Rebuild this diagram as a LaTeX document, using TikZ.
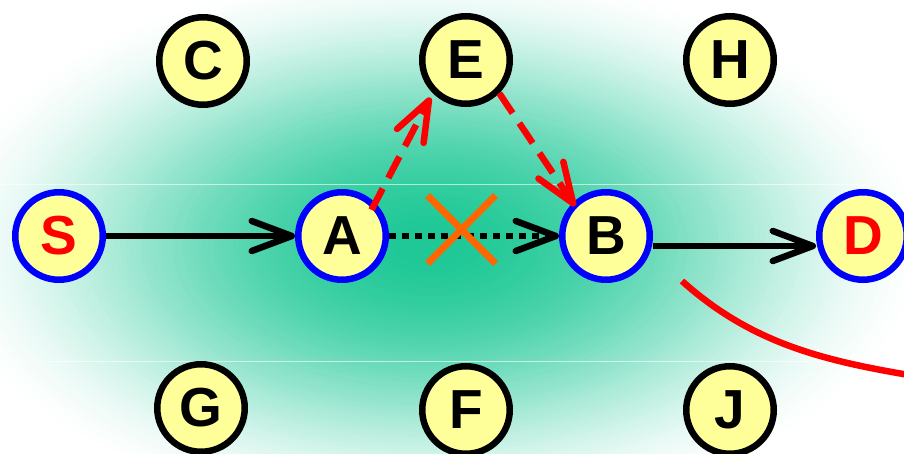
\documentclass[tikz,border=0pt]{standalone}
\usepackage{fontspec}
\setmainfont{Liberation Sans}
\usetikzlibrary{arrows.meta,shapes.misc}
\definecolor{bggreen}{RGB}{30,200,150}
\definecolor{nodefill}{RGB}{255,255,153}
\definecolor{xorange}{RGB}{255,102,0}
\begin{document}
\begin{tikzpicture}[x=1pt,y=-1pt,
  vtx/.style={circle, draw=black, fill=nodefill, line width=6.5pt, minimum size=87.5pt, inner sep=0pt,
    font=\fontsize{55}{55}\selectfont\bfseries},
  pathvtx/.style={vtx, draw=blue},
  arr/.style={line width=6.5pt, -{Straight Barb[length=40pt,width=30pt,round]}},
  dotpat/.style={dash pattern=on 6.5pt off 6.5pt},
  redarr/.style={arr, red, dash pattern=on 24pt off 12pt},
  seam/.style={white, opacity=0.6, line width=1pt}]
\useasboundingbox (0,0) rectangle (904,454);
\begin{scope}
\clip (0,0) rectangle (904,454);
\fill[white] (0,0) rectangle (904,454);
\foreach \i in {100,99,...,1} {
  \pgfmathtruncatemacro\c{100*(1-(\i/100)^2)^2}
  \fill[bggreen!\c!white] (430,245) ellipse [x radius=5.16*\i, y radius=2.88*\i];
}
\draw[seam] (0,185) -- (904,185);
\draw[seam] (0,361) -- (904,361);

\node[pathvtx, text=red] (S) at (59,236) {S};
\node[pathvtx] (A) at (342,236) {A};
\node[pathvtx] (B) at (606,236) {B};
\node[pathvtx, text=red] (D) at (863,236) {D};
\node[vtx] (C) at (203,61) {C};
\node[vtx] (E) at (466,60) {E};
\node[vtx] (H) at (730,60) {H};
\node[vtx] (G) at (201,408) {G};
\node[vtx] (F) at (466,410) {F};
\node[vtx] (J) at (730,410) {J};

\draw[arr] (S) -- (A);
\draw[arr, dotpat] (A) -- (B);
\draw[arr] ([yshift=-10pt]B.east) -- ([yshift=-10pt]D.west);
\draw[redarr, shorten <=-8pt, shorten >=5pt] (A.north east) -- (E.south west);
\draw[redarr, shorten >=-4pt] (E.south east) -- (B.north west);

\node[cross out, draw=xorange, line width=7pt, minimum width=61pt, minimum height=61pt, inner sep=0pt] (X) at (461.5,229.5) {};

\coordinate (c0) at (682,281);
\coordinate (c1) at (915,376);
\draw[red, line width=6.5pt] (c0) .. controls (752,344) and (825,361) .. (c1);
\end{scope}
\end{tikzpicture}
\end{document}
